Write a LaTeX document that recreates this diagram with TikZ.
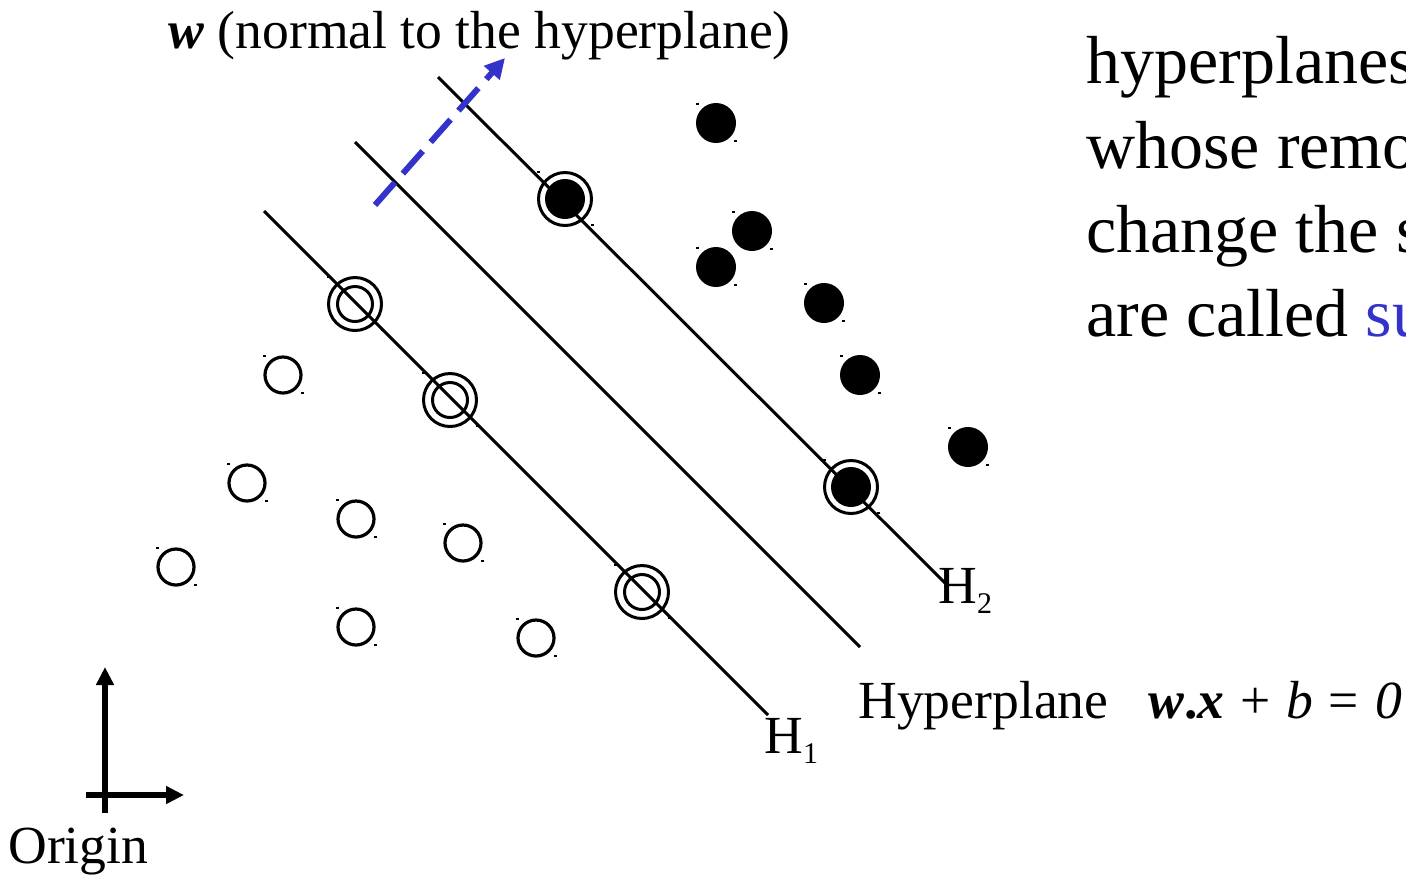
\documentclass[tikz,border=0pt]{standalone}
\usepackage{fontspec}
\setmainfont{Liberation Serif}
\usetikzlibrary{arrows.meta}
\definecolor{wblue}{RGB}{51,51,204}
\newcommand\cornermarks[3]{%
  \fill ($(#1)+(-#2-1,-#2-1)$) rectangle ++(3,2);
  \fill ($(#1)+(#2-1,#2-2)$) rectangle ++(3,2);}
\usetikzlibrary{calc}
\begin{document}
\begin{tikzpicture}[x=0.5pt,y=-0.5pt,
  hyp/.style={line width=1.5pt},
  opt/.style={circle,draw,line width=1.6pt,minimum size=18pt,inner sep=0pt},
  fpt/.style={circle,fill,minimum size=20pt,inner sep=0pt},
  ringin/.style={circle,draw,line width=1.5pt,minimum size=17.5pt,inner sep=0pt},
  ringout/.style={circle,draw,line width=1.5pt,minimum size=26.5pt,inner sep=0pt},
  axis/.style={line width=3pt,-{Triangle[width=8.5pt,length=9pt]}},
  lbl/.style={anchor=base west,inner sep=0pt,font=\fontsize{26.8}{30}\selectfont},
  big/.style={anchor=base west,inner sep=0pt,font=\fontsize{34}{40}\selectfont},
  warrow/.style={wblue,line width=3pt,dash pattern=on 15pt off 6pt,-{Triangle[width=10pt,length=10pt]}}
]
\useasboundingbox (0,0) rectangle (1406,875);
\begin{scope}
\clip (0,0) rectangle (1406,875);

% hyperplanes
\coordinate (h2a) at (438,77);  \coordinate (h2b) at (945,583);
\coordinate (hma) at (355,142); \coordinate (hmb) at (860,647);
\coordinate (h1a) at (264,211); \coordinate (h1b) at (768,715);
\draw[hyp] (h2a) -- (h2b);
\draw[hyp] (hma) -- (hmb);
\draw[hyp] (h1a) -- (h1b);

% normal vector w
\coordinate (wa) at (375,205); \coordinate (wb) at (505,58);
\draw[warrow] (wa) -- (wb);

% filled points
\foreach \n/\x/\y in {f1/716/123, f2/752/231, f3/716/267, f4/824/303, f5/860/375, f6/968/447}{
  \node[fpt] (\n) at (\x,\y) {};
  \cornermarks{\n}{19}{}
}
% open points
\foreach \n/\x/\y in {o1/283/375, o2/247/483, o3/356/519, o4/463/543, o5/176/567, o6/356/627, o7/536/638}{
  \node[opt] (\n) at (\x,\y) {};
  \cornermarks{\n}{19}{}
}
% support vectors (filled)
\foreach \n/\x/\y in {sf1/565/199, sf2/851/487}{
  \node[fpt] (\n) at (\x,\y) {};
  \node[ringout] (\n r) at (\x,\y) {};
  \cornermarks{\n}{27}{}
}
% support vectors (open)
\foreach \n/\x/\y in {so1/355/304, so2/450/400, so3/642/592}{
  \node[ringin] (\n) at (\x,\y) {};
  \node[ringout] (\n r) at (\x,\y) {};
  \cornermarks{\n}{27}{}
}

% labels
\node[lbl] (wlabel) at (168,48) {\textbf{\textit{w}} (normal to the hyperplane)};
\node[lbl] (H2) at (938,603) {H\raisebox{-5pt}{\fontsize{15}{15}\selectfont 2}};
\node[lbl] (H1) at (764,753) {H\raisebox{-5pt}{\fontsize{15}{15}\selectfont 1}};
\node[lbl] (hyplabel) at (858,718) {Hyperplane};
\node[lbl] (eq) at (1148,718) {\textbf{\textit{w}}\textbf{.}\textbf{\textit{x}}\hspace{1.2pt} + \hspace{1.2pt}\textit{b}\hspace{1.2pt} = \hspace{1.2pt}\textit{0}};
\node[lbl] (origin) at (8,863) {Origin};

% right text
\node[big] (t1) at (1086,83) {hyperplanes};
\node[big] (t2) at (1086,168) {whose remo};
\node[big] (t3) at (1086,252) {change the s};
\node[big] (t4) at (1086,336) {are called \textcolor{wblue}{su}};

% origin axes
\coordinate (ox0) at (86,795);  \coordinate (ox1) at (184,795);
\coordinate (oy0) at (105,813); \coordinate (oy1) at (105,667);
\draw[axis] (ox0) -- (ox1);
\draw[axis] (oy0) -- (oy1);
\end{scope}
\end{tikzpicture}
\end{document}
